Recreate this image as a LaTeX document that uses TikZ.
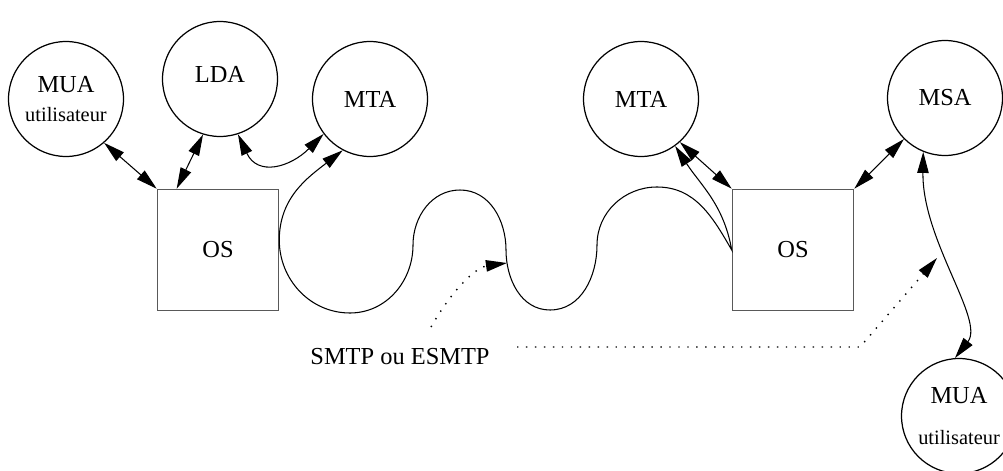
\documentclass[tikz,border=0pt]{standalone}
\usepackage{fontspec}
\setmainfont{Liberation Serif}
\usetikzlibrary{positioning,arrows.meta}

\begin{document}
\begin{tikzpicture}[x=0.02cm, y=0.02cm,
  agent/.style={draw, circle, line width=0.7pt, minimum size=2.3cm, inner sep=0pt, align=center, font=\fontsize{13.9}{18}\selectfont},
  osbox/.style={draw=black!65, line width=0.9pt, minimum size=2.42cm, inner sep=0pt, font=\fontsize{13.9}{16}\selectfont},
  link/.style={{Triangle[length=12pt,width=6.5pt]}-{Triangle[length=12pt,width=6.5pt]}, line width=0.6pt},
  note/.style={-{Triangle[length=12pt,width=6.5pt]}, line width=0.8pt, dash pattern=on 0.8pt off 4.3pt}]
  \useasboundingbox (0,0) rectangle (1003,470);

  % Left side
  \node[agent] (muaL) at (66,371) {MUA\\[-1pt]{\fontsize{11.6}{14}\selectfont utilisateur}};
  \node[agent] (lda) at (220,391) {\raisebox{5.5pt}{LDA}};
  \node[agent] (mtaL) at (370,371) {MTA};
  \node[osbox] (osL) at (218,220) {OS};

  % Right side
  \node[agent] (mtaR) at (641,371) {MTA};
  \node[agent] (msa) at (945,372) {MSA};
  \node[agent] (muaR) at (959,54) {MUA\\[5pt]{\fontsize{11.6}{14}\selectfont utilisateur}};
  \node[osbox] (osR) at (793,220) {OS};

  \node[font=\fontsize{13.9}{16}\selectfont] (smtp) at (400,113) {SMTP ou ESMTP};
  \coordinate (dotA) at (431,143);
  \coordinate (dotB) at (517,123);
  \coordinate (bend) at (860,123);
  \coordinate (hitA) at (507,207);
  \coordinate (hitB) at (937,212);

  % Local links
  \draw[link] (muaL.311) -- (osL.north west);
  \draw[link] (lda.253) -- (osL.124);
  \draw[link] (lda.288) to[out=-65,in=225,looseness=1.4] (mtaL.217);
  \draw[link] (mtaR.312) -- (osR.north west);
  \draw[link] (msa.225) -- (osR.north east);
  \draw[link] (msa.248) .. controls (922,230) and (985,150) .. (muaR.94);

  % Network
  \draw[link] (mtaL.242) to[out=218,in=90] ([yshift=0.2cm]osL.east) to[out=-90,in=180] (350,157)
    to[out=0,in=-90] (413,225) to[out=90,in=180] (460,280) to[out=0,in=90] (506,220)
    to[out=-90,in=180] (550,160) to[out=0,in=-90] (597,225) to[out=90,in=180] (657,283)
    to[out=0,in=120] (osR.west) to[out=100,in=-57] (mtaR.306);

  % Protocol
  \draw[note] (dotA) .. controls (455,185) and (478,203) .. (hitA);
  \draw[note] (dotB) -- (bend) -- (hitB);
\end{tikzpicture}
\end{document}
